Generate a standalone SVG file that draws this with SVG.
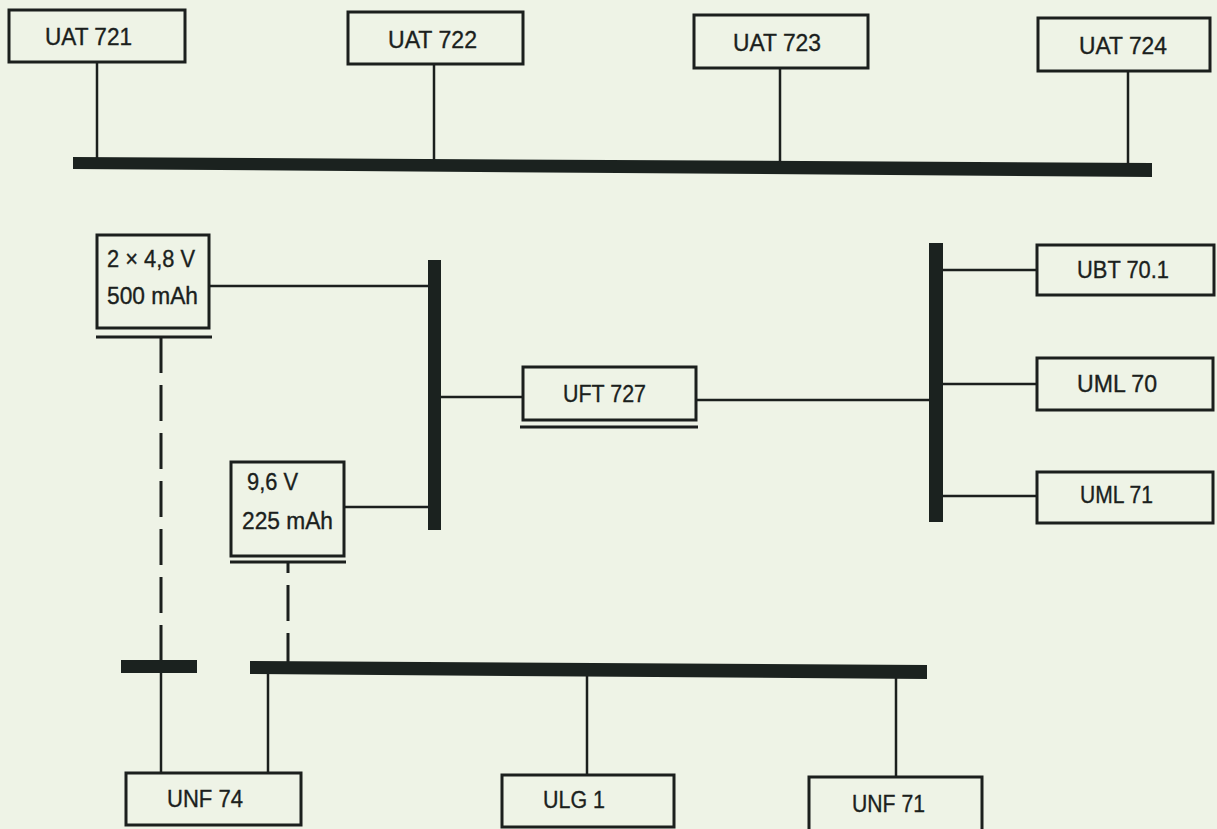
<svg xmlns="http://www.w3.org/2000/svg" width="1217" height="829" viewBox="0 0 1217 829">
<style>
.bg{fill:#eef3e6}
.box{fill:#eef3e6;stroke:#1b1f1d;stroke-width:3}
.ln{stroke:#1b1f1d;stroke-width:2.5;fill:none}
.dash{stroke:#1b1f1d;stroke-width:3;fill:none;stroke-dasharray:36 12}
.bus{fill:#1b221f}
.ul{stroke:#1b1f1d;stroke-width:3}
text{font-family:"Liberation Sans",Arial,sans-serif;font-size:23px;fill:#1b1f1d;stroke:#1b1f1d;stroke-width:0.35}
</style>
<rect class="bg" x="0" y="0" width="1217" height="829"/>
<g id="connectors">
<polygon class="bus" points="73,157 1152,163 1152,177 73,169"/>
<line class="ln" x1="97" y1="62" x2="97" y2="158"/>
<line class="ln" x1="434" y1="64" x2="434" y2="160"/>
<line class="ln" x1="780" y1="68" x2="780" y2="162"/>
<line class="ln" x1="1128" y1="72" x2="1128" y2="164"/>
<rect class="bus" x="428" y="260" width="13" height="270"/>
<rect class="bus" x="929" y="243" width="14" height="279"/>
<line class="ln" x1="209" y1="286" x2="428" y2="286"/>
<line class="ln" x1="344" y1="507" x2="428" y2="507"/>
<line class="ln" x1="441" y1="397" x2="523" y2="397"/>
<line class="ln" x1="696" y1="400" x2="929" y2="400"/>
<line class="ln" x1="943" y1="270" x2="1037" y2="270"/>
<line class="ln" x1="943" y1="384" x2="1037" y2="384"/>
<line class="ln" x1="943" y1="496" x2="1037" y2="496"/>
<line class="dash" x1="161" y1="337" x2="161" y2="661"/>
<line class="ln" x1="161" y1="661" x2="161" y2="773"/>
<line class="dash" x1="288" y1="562" x2="288" y2="662" style="stroke-dashoffset:25"/>
<rect class="bus" x="121" y="660" width="76" height="13"/>
<polygon class="bus" points="250,661 927,665 927,679 250,674"/>
<line class="ln" x1="268" y1="674" x2="268" y2="773"/>
<line class="ln" x1="587" y1="676" x2="587" y2="775"/>
<line class="ln" x1="896" y1="678" x2="896" y2="777"/>
</g>
<g id="uat721"><rect class="box" x="9" y="10" width="176" height="52"/><text x="45" y="45" textLength="87" lengthAdjust="spacingAndGlyphs">UAT 721</text></g>
<g id="uat722"><rect class="box" x="348" y="12" width="175" height="52"/><text x="388" y="48" textLength="89" lengthAdjust="spacingAndGlyphs">UAT 722</text></g>
<g id="uat723"><rect class="box" x="694" y="15" width="174" height="53"/><text x="733" y="51" textLength="88" lengthAdjust="spacingAndGlyphs">UAT 723</text></g>
<g id="uat724"><rect class="box" x="1038" y="18" width="172" height="53"/><text x="1079" y="54" textLength="88" lengthAdjust="spacingAndGlyphs">UAT 724</text></g>
<g id="bat1"><rect class="box" x="97" y="235" width="112" height="93"/><line class="ul" x1="96" y1="337" x2="212" y2="337"/><text x="107" y="267" textLength="88" lengthAdjust="spacingAndGlyphs">2 × 4,8 V</text><text x="107" y="304" textLength="91" lengthAdjust="spacingAndGlyphs">500 mAh</text></g>
<g id="bat2"><rect class="box" x="231" y="462" width="113" height="94"/><line class="ul" x1="230" y1="562" x2="346" y2="562"/><text x="247" y="490" textLength="51" lengthAdjust="spacingAndGlyphs">9,6 V</text><text x="242" y="529" textLength="91" lengthAdjust="spacingAndGlyphs">225 mAh</text></g>
<g id="uft727"><rect class="box" x="523" y="367" width="173" height="53"/><line class="ul" x1="520" y1="427" x2="698" y2="427"/><text x="563" y="402" textLength="83" lengthAdjust="spacingAndGlyphs">UFT 727</text></g>
<g id="ubt701"><rect class="box" x="1037" y="245" width="177" height="50"/><text x="1077" y="278" textLength="92" lengthAdjust="spacingAndGlyphs">UBT 70.1</text></g>
<g id="uml70"><rect class="box" x="1037" y="358" width="176" height="52"/><text x="1077" y="392" textLength="80" lengthAdjust="spacingAndGlyphs">UML 70</text></g>
<g id="uml71"><rect class="box" x="1037" y="472" width="176" height="51"/><text x="1080" y="503" textLength="73" lengthAdjust="spacingAndGlyphs">UML 71</text></g>
<g id="unf74"><rect class="box" x="126" y="773" width="175" height="52"/><text x="167" y="807" textLength="76" lengthAdjust="spacingAndGlyphs">UNF 74</text></g>
<g id="ulg1"><rect class="box" x="502" y="775" width="172" height="52"/><text x="543" y="808" textLength="62" lengthAdjust="spacingAndGlyphs">ULG 1</text></g>
<g id="unf71"><rect class="box" x="809" y="777" width="173" height="54"/><text x="852" y="812" textLength="73" lengthAdjust="spacingAndGlyphs">UNF 71</text></g>
</svg>
